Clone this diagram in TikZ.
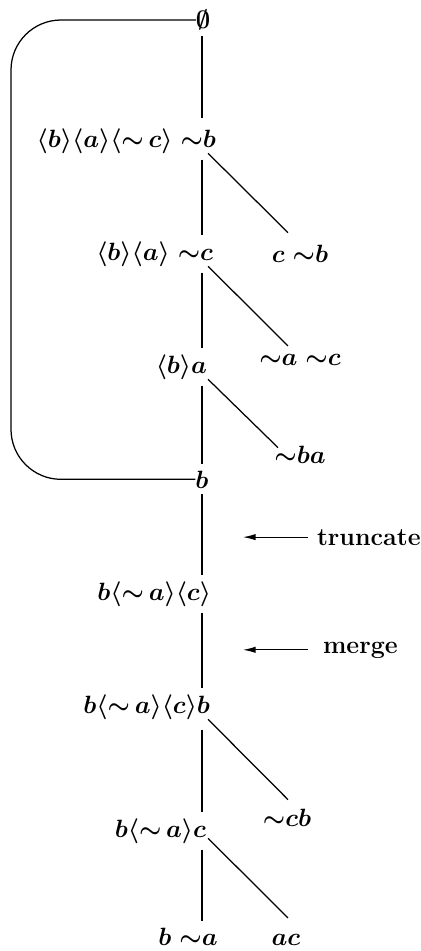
\documentclass[tikz,border=0pt]{standalone}
\usetikzlibrary{arrows.meta,calc}
\begin{document}
\begin{tikzpicture}[x=0.48pt,y=-0.48pt,
  lab/.style={inner sep=0pt,outer sep=0pt,font=\fontsize{12}{14}\selectfont\boldmath},
  txt/.style={inner sep=0pt,outer sep=0pt,font=\fontsize{12}{14}\selectfont\bfseries},
  trunk/.style={line width=0.6pt,shorten <=3pt,shorten >=3pt},
  br/.style={line width=0.6pt},
  arr/.style={line width=0.5pt,-{Latex[length=6pt,width=3pt]}}]
\useasboundingbox (0,0) rectangle (421,951);
\coordinate (tr) at (202,0);
\coordinate (lx) at (11,0);
\coordinate (ta) at (243,0);
% nodes
\node[lab] (n0) at (203,20) {$\emptyset$};
\node[lab,anchor=base east] (n1) at (216,147) {$\langle b\rangle\langle a\rangle\langle{\sim}\,c\rangle\;{\sim}b$};
\node[lab,anchor=base] (r1) at (300,262) {$c\;{\sim}b$};
\node[lab,anchor=base east] (n2) at (213,260) {$\langle b\rangle\langle a\rangle\;{\sim}c$};
\node[lab,anchor=base] (r2) at (300,365) {${\sim}a\;{\sim}c$};
\node[lab,anchor=base east] (n3) at (207,373) {$\langle b\rangle a$};
\node[lab,anchor=base] (r3) at (300,463) {${\sim}ba$};
\node[lab,anchor=base] (nb) at (202,488) {$b$};
\node[txt,anchor=base west] (trunc) at (317,545) {truncate};
\node[lab,anchor=base east] (n4) at (211,600) {$b\langle{\sim}\,a\rangle\langle c\rangle$};
\node[txt,anchor=base west] (merge) at (323,653) {merge};
\node[lab,anchor=base east] (n5) at (210,713) {$b\langle{\sim}\,a\rangle\langle c\rangle b$};
\node[lab,anchor=base] (r5) at (287,826) {${\sim}cb$};
\node[lab,anchor=base east] (n6) at (206,837) {$b\langle{\sim}\,a\rangle c$};
\node[lab,anchor=base] (n7) at (188,945) {$b\;{\sim}a$};
\node[lab,anchor=base] (r7) at (286,945) {$ac$};
% trunk
\draw[trunk,shorten >=4.8pt] (n0.south -| tr) -- (n1.north -| tr);
\draw[trunk] (n1.south -| tr) -- (n2.north -| tr);
\draw[trunk] (n2.south -| tr) -- (n3.north -| tr);
\draw[trunk] (n3.south -| tr) -- (nb.north -| tr);
\draw[trunk] (nb.south -| tr) -- (n4.north -| tr);
\draw[trunk] (n4.south -| tr) -- (n5.north -| tr);
\draw[trunk,shorten <=5pt] (n5.south -| tr) -- (n6.north -| tr);
\draw[trunk] (n6.south -| tr) -- (n7.north -| tr);
% branches
\draw[br] ($(n1.south -| tr)+(6,0)$) -- ($(r1.north)+(-12,-12)$);
\draw[br] ($(n2.south -| tr)+(6,0)$) -- ($(r2.north)+(-12,-8)$);
\draw[br] ($(n3.south -| tr)+(6,0)$) -- ($(r3.north)+(-22,2)$);
\draw[br] ($(n5.south -| tr)+(6,0)$) -- ($(r5.north)+(1,-9)$);
\draw[br] ($(n6.south -| tr)+(6,-5)$) -- ($(r7.north)+(2,-16)$);
% loop
\draw[br,rounded corners=24pt] (nb.west) -- (nb.west -| lx) -- (n0.west -| lx) -- (n0.west);
% arrows
\draw[arr,shorten <=4.3pt] (trunc.west) -- (trunc.west -| ta);
\draw[arr,shorten <=7.2pt] (merge.west) -- (merge.west -| ta);
\end{tikzpicture}
\end{document}
